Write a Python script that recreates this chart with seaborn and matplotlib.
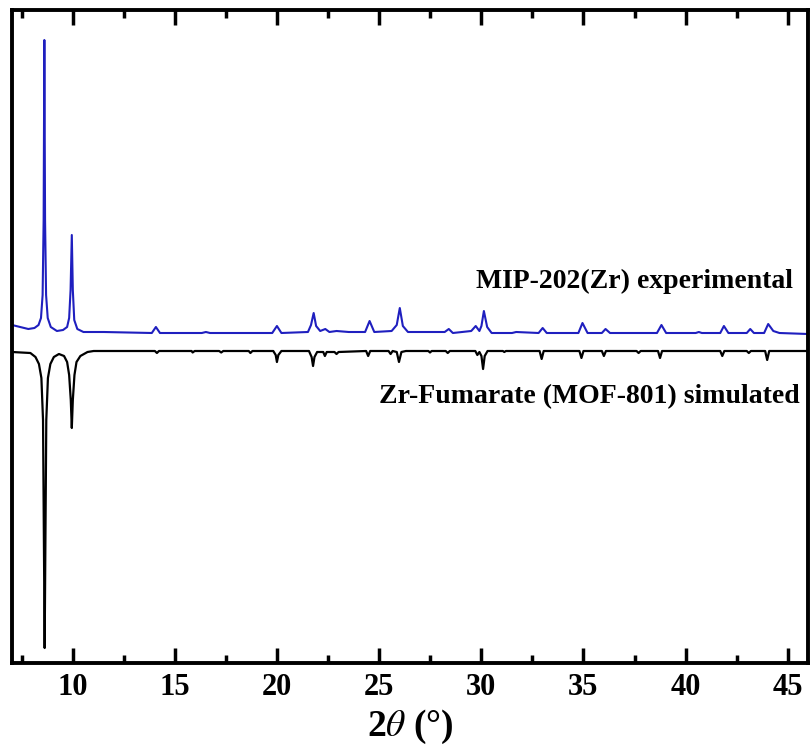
import matplotlib
matplotlib.use("Agg")
import matplotlib.pyplot as plt
import seaborn as sns
import pandas as pd
from matplotlib.ticker import MultipleLocator

# ---- data (y in plotted intensity units) ----
exp_2theta = [7.0, 7.4, 7.8, 8.1, 8.3, 8.42, 8.5, 8.55, 8.585, 8.62, 8.67, 8.75, 8.9,
              9.2, 9.5, 9.7, 9.8, 9.87, 9.93, 9.98, 10.05, 10.2, 10.5, 11.5, 13.85,
              14.05, 14.25, 16.3, 16.5, 16.7, 19.75, 19.98, 20.2, 21.5, 21.65, 21.78,
              21.9, 22.1, 22.35, 22.55, 22.9, 23.5, 24.3, 24.52, 24.75, 25.6, 25.85,
              26.0, 26.15, 26.4, 28.2, 28.4, 28.6, 29.5, 29.72, 29.9, 30.0, 30.12,
              30.28, 30.5, 31.5, 31.7, 32.8, 33.0, 33.2, 34.75, 34.95, 35.2, 35.9,
              36.08, 36.3, 38.6, 38.82, 39.05, 40.5, 40.65, 40.8, 41.7, 41.88, 42.1,
              43.0, 43.17, 43.35, 43.85, 44.05, 44.3, 44.6, 46.0]
exp_px = [325, 327, 329, 328, 325, 318, 295, 220, 40, 220, 295, 318, 327,
          331, 330, 327, 318, 290, 235, 290, 320, 329, 332, 332, 333,
          327, 333, 333, 332, 333, 333, 326, 333, 332, 325, 313,
          326, 331, 329, 332, 331, 332, 332, 321, 332, 331, 325,
          308, 326, 332, 332, 329, 333, 331, 326, 331, 326, 311,
          327, 333, 333, 332, 333, 328, 333, 333, 323, 333, 333,
          329, 333, 333, 325, 333, 333, 332, 333, 333, 326, 333,
          333, 329, 333, 333, 324, 331, 333, 334]

sim_2theta = [7.0, 7.9, 8.15, 8.32, 8.44, 8.52, 8.57, 8.6, 8.63, 8.68, 8.76, 8.88,
              9.05, 9.3, 9.55, 9.7, 9.8, 9.88, 9.93, 9.98, 10.06, 10.16, 10.35, 10.7,
              11.0, 14.0, 14.1, 14.2, 15.8, 15.85, 15.95, 17.15, 17.25, 17.35, 18.6,
              18.68, 18.78, 19.8, 19.92, 19.98, 20.05, 20.2, 21.55, 21.68, 21.75,
              21.82, 21.95, 22.25, 22.33, 22.42, 22.8, 22.9, 23.0, 24.35, 24.45,
              24.55, 25.45, 25.55, 25.65, 25.85, 25.96, 26.08, 26.3, 27.4, 27.48,
              27.56, 28.25, 28.35, 28.45, 29.7, 29.8, 29.9, 30.0, 30.08, 30.16, 30.3,
              31.05, 31.12, 31.2, 32.85, 32.95, 33.05, 34.8, 34.9, 35.0, 35.9, 36.0,
              36.1, 37.6, 37.7, 37.8, 38.65, 38.75, 38.85, 41.7, 41.8, 41.9, 43.0,
              43.1, 43.2, 43.9, 44.0, 44.1, 46.0]
sim_px = [352, 353, 357, 364, 378, 420, 560, 648, 560, 420, 378, 364,
          357, 354, 356, 362, 375, 400, 428, 400, 375, 362, 356, 352,
          351, 351, 353, 351, 351, 352.5, 351, 351, 352.5, 351, 351,
          353, 351, 351, 355, 362, 355, 351, 351, 357, 366,
          357, 352, 352, 356, 352, 352, 354, 352, 351, 356,
          351, 351, 354, 351, 352, 362, 352, 351, 351, 352.5,
          351, 351, 353, 351, 351, 355, 352, 356, 369, 356, 351,
          351, 352, 351, 351, 359, 351, 351, 358, 351, 351, 356,
          351, 351, 353, 351, 351, 358, 351, 351, 356, 351, 351,
          353, 351, 351, 360, 351, 351]

labels = ["MIP-202(Zr) experimental", "Zr-Fumarate (MOF-801) simulated"]
x_ticks = [10, 15, 20, 25, 30, 35, 40, 45]

TOP = 663  # plotted value = TOP - pixel row
df_exp = pd.DataFrame({"x": exp_2theta, "y": [TOP - v for v in exp_px]})
df_sim = pd.DataFrame({"x": sim_2theta, "y": [TOP - v for v in sim_px]})

sns.set_theme(style="ticks")
plt.rcParams["font.family"] = ["Liberation Serif", "DejaVu Serif"]
plt.rcParams["mathtext.fontset"] = "stix"
plt.rcParams["text.color"] = "black"
plt.rcParams["xtick.color"] = "black"
plt.rcParams["axes.labelcolor"] = "black"

fig = plt.figure(figsize=(8.12, 7.52), dpi=100)
ax = fig.add_axes([12 / 812, 1 - 663 / 752, 796 / 812, 653 / 752])

sns.lineplot(data=df_exp, x="x", y="y", ax=ax, color="#1f1fbf", lw=1.5,
             estimator=None, sort=False)
sns.lineplot(data=df_sim, x="x", y="y", ax=ax, color="black", lw=1.6,
             estimator=None, sort=False)

ax.set_xlim(7, 46)
ax.set_ylim(0, 653)
ax.set_yticks([])
ax.set_xticks(x_ticks)
ax.xaxis.set_minor_locator(MultipleLocator(2.5))
ax.tick_params(axis="x", which="major", direction="in", length=11, width=2.5,
               top=True, bottom=True, labelsize=22, pad=7, colors="black")
ax.tick_params(axis="x", which="minor", direction="in", length=6, width=2.5,
               top=True, bottom=True, colors="black")
for lab in ax.get_xticklabels():
    lab.set_fontweight("bold")
for sp in ax.spines.values():
    sp.set_linewidth(2.8)
    sp.set_color("black")

ax.set_xlabel(r"2$\mathit{\theta}$ (°)", fontsize=27, fontweight="bold",
              labelpad=4, color="black")
ax.set_ylabel("")

ax.text(45.25, TOP - 281, labels[0], ha="right", va="center",
        fontsize=20, fontweight="bold", color="black")
ax.text(45.6, TOP - 397, labels[1], ha="right", va="center",
        fontsize=20, fontweight="bold", color="black")

fig.savefig("out.png", dpi=100)
